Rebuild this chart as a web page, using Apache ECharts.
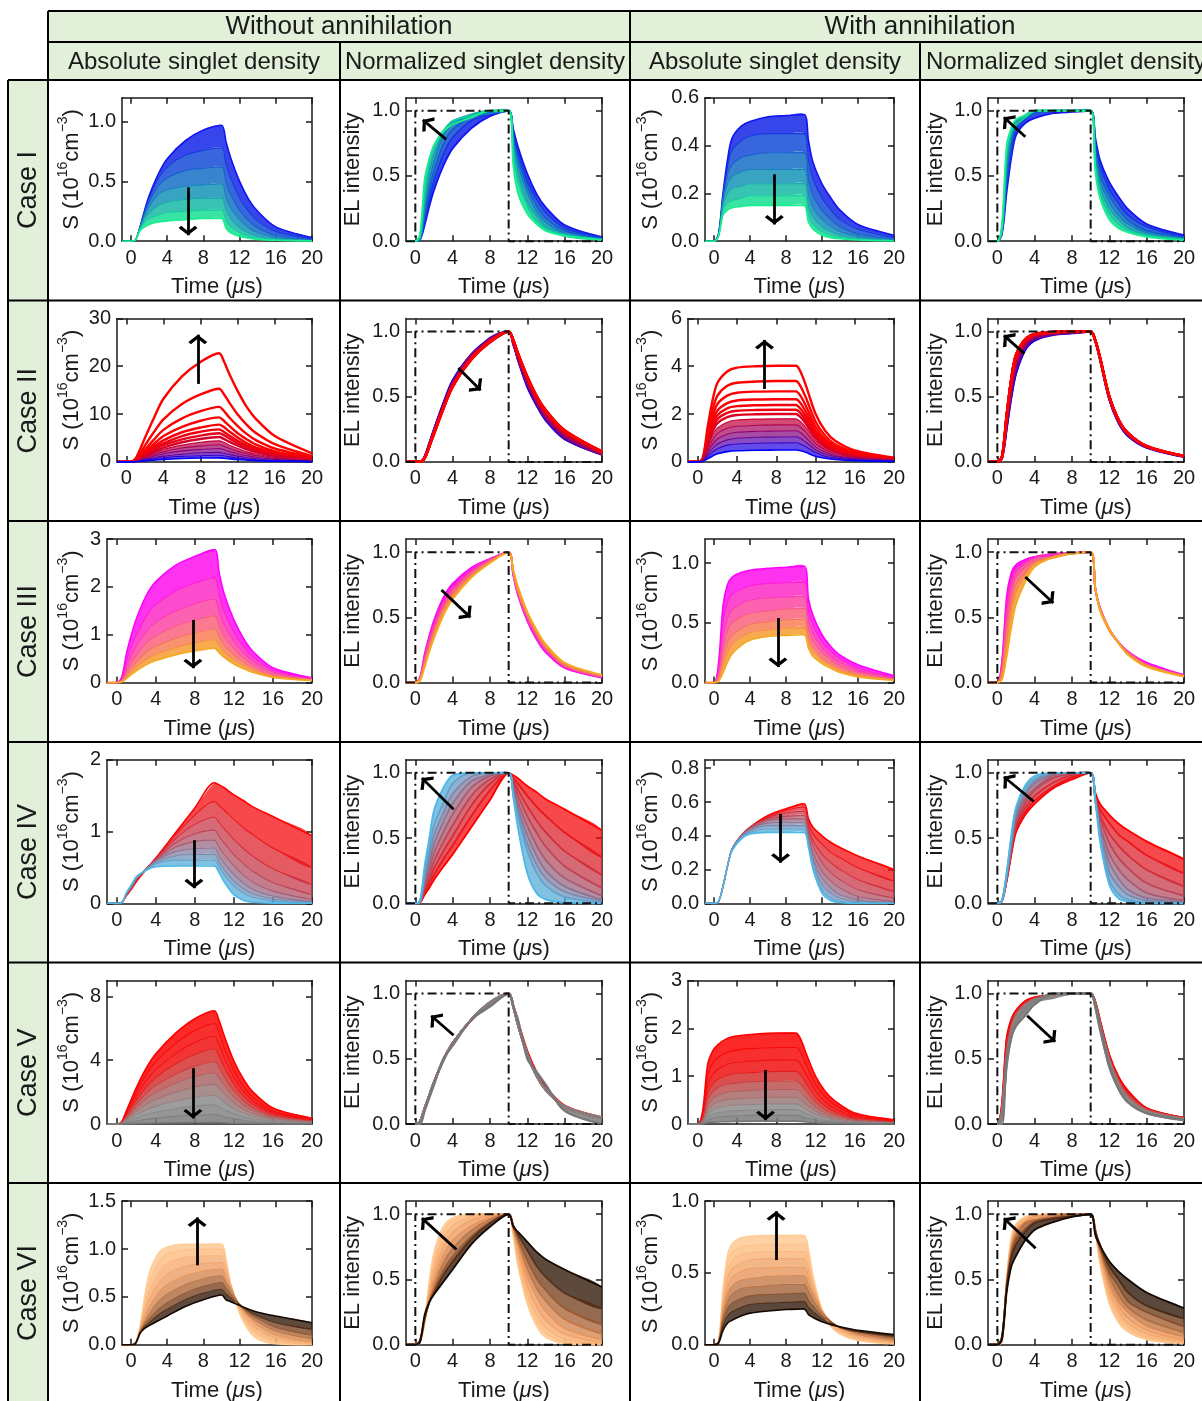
<!DOCTYPE html>
<html>
<head>
<meta charset="utf-8">
<title>Singlet density, cases I-VI</title>
<script src="https://cdn.jsdelivr.net/npm/echarts@6.0.0/dist/echarts.min.js"></script>
<style>
  html, body { margin: 0; padding: 0; background: #fff; }
  #chart { width: 1202px; height: 1401px; }
</style>
</head>
<body>
<div id="chart"></div>
<script>
const FONT = "'Liberation Sans', Arial, Helvetica, sans-serif";
const INK = '#1a1a1a';
const GREEN = '#e2efd9';

// shared time grid (us) for every curve
const T = [-1, 0, 0.5, 1, 1.5, 2, 3, 4, 6, 8, 10, 10.5, 11, 12, 13, 14, 16, 20];

// dash-dot drive pulse of the normalized panels
const pulseT = [-1, 0, 0, 10, 10, 20];
const pulseV = [0, 0, 1, 1, 0, 0];

const timeTicks = [0, 4, 8, 12, 16, 20];
const normTicks = [0, 0.5, 1];

// absolute panels: y top and tick labels, [without, with] annihilation
const absMax = [[1.2, 0.6], [30, 6], [3, 1.2], [2, 0.85], [9, 3], [1.5, 1.0]];
const absTicks = [
  [[0, 0.5, 1], [0, 0.2, 0.4, 0.6]],
  [[0, 10, 20, 30], [0, 2, 4, 6]],
  [[0, 1, 2, 3], [0, 0.5, 1]],
  [[0, 1, 2], [0, 0.2, 0.4, 0.6, 0.8]],
  [[0, 4, 8], [0, 1, 2, 3]],
  [[0, 0.5, 1, 1.5], [0, 0.5, 1]]
];

const caseNames = ['Case I', 'Case II', 'Case III', 'Case IV', 'Case V', 'Case VI'];
const groupTitles = ['Without annihilation', 'With annihilation'];
const colTitles = ['Absolute singlet density', 'Normalized singlet density', 'Absolute singlet density', 'Normalized singlet density'];

// arrows per panel: [tail, head] in (time, value)
const arrows = [
  [[[6.3, 0.45], [6.3, 0.05]], [[3.3, 0.78], [0.8, 0.93]], [[6.7, 0.28], [6.7, 0.07]], [[3.0, 0.80], [0.7, 0.95]]],
  [[[7.7, 16.3], [7.7, 26.6]], [[4.6, 0.72], [7.0, 0.55]], [[6.8, 3.05], [6.8, 5.1]], [[2.9, 0.83], [0.7, 0.97]]],
  [[[7.8, 1.31], [7.8, 0.3]], [[2.8, 0.71], [5.9, 0.5]], [[7.1, 0.54], [7.1, 0.13]], [[3.0, 0.81], [6.0, 0.61]]],
  [[[7.9, 0.88], [7.9, 0.21]], [[4.1, 0.72], [0.7, 0.96]], [[7.4, 0.53], [7.4, 0.24]], [[3.9, 0.78], [0.7, 0.97]]],
  [[[7.8, 3.5], [7.8, 0.35]], [[4.1, 0.68], [1.7, 0.83]], [[6.9, 1.13], [6.9, 0.08]], [[3.2, 0.83], [6.2, 0.63]]],
  [[[7.3, 0.83], [7.3, 1.33]], [[4.4, 0.73], [0.7, 0.97]], [[6.9, 0.59], [6.9, 0.93]], [[4.1, 0.74], [0.7, 0.97]]]
];

// singlet density S (1e16 cm^-3) on grid T, curves ordered top to bottom
const case1NoAnn = [
  [0,0,.01,.12,.26,.38,.56,.69,.84,.93,.97,.83,.70,.50,.35,.25,.12,.03],
  [0,0,.01,.12,.25,.36,.52,.62,.72,.76,.78,.64,.53,.36,.25,.17,.08,.02],
  [0,0,.01,.12,.24,.33,.46,.53,.59,.61,.62,.49,.39,.26,.17,.11,.05,.012],
  [0,0,.01,.12,.22,.29,.39,.43,.46,.47,.48,.36,.28,.18,.11,.07,.03,.006],
  [0,0,.01,.11,.19,.24,.30,.33,.35,.36,.36,.26,.19,.11,.07,.04,.02,.004],
  [0,0,.01,.10,.16,.19,.22,.24,.25,.26,.26,.17,.12,.07,.04,.025,.01,.002],
  [0,0,.01,.09,.12,.14,.16,.17,.18,.19,.19,.11,.07,.04,.025,.015,.008,.002]
];
const case1Ann = [
  [0,0,.03,.20,.34,.43,.48,.50,.52,.525,.53,.42,.33,.24,.18,.13,.07,.025],
  [0,0,.03,.19,.31,.38,.42,.44,.45,.45,.45,.34,.26,.18,.13,.09,.05,.015],
  [0,0,.03,.18,.28,.32,.35,.36,.37,.37,.37,.26,.19,.13,.09,.06,.03,.01],
  [0,0,.03,.17,.24,.27,.29,.30,.30,.30,.30,.20,.14,.09,.06,.04,.02,.006],
  [0,0,.02,.15,.20,.22,.23,.24,.24,.24,.24,.15,.10,.06,.04,.025,.012,.004],
  [0,0,.02,.13,.16,.17,.18,.19,.19,.19,.19,.11,.07,.04,.025,.016,.008,.002],
  [0,0,.02,.11,.13,.14,.145,.15,.15,.15,.15,.08,.05,.025,.015,.01,.005,.001]
];
const case2NoAnn = [
  [0,0,0,.7,2.7,5.0,9.3,13.2,17.9,20.9,22.7,21.1,18.8,14.8,11.4,8.9,5.4,1.8],
  [0,0,0,.46,1.8,3.4,6.3,8.9,12.1,14.1,15.3,14.2,12.7,9.9,7.7,6.0,3.7,1.2],
  [0,0,0,.35,1.4,2.5,4.7,6.7,9.1,10.6,11.5,10.7,9.5,7.5,5.8,4.5,2.8,.9],
  [0,0,0,.28,1.1,2.0,3.8,5.4,7.3,8.6,9.3,8.6,7.7,6.0,4.7,3.6,2.2,.74],
  [0,0,0,.23,.94,1.7,3.2,4.5,6.2,7.2,7.8,7.3,6.5,5.1,3.9,3.0,1.9,.62],
  [0,0,0,.2,.82,1.5,2.8,3.9,5.4,6.3,6.8,6.3,5.6,4.4,3.4,2.7,1.6,.54],
  [0,0,0,.18,.72,1.3,2.5,3.5,4.7,5.5,6.0,5.6,5.0,3.9,3.0,2.3,1.4,.48],
  [0,0,0,.16,.62,1.1,2.1,3.0,4.1,4.8,5.2,4.8,4.3,3.4,2.6,2.0,1.2,.42],
  [0,0,0,.14,.55,1.0,1.8,2.6,3.5,4.1,4.4,4.1,3.6,2.8,2.1,1.6,.96,.3],
  [0,0,0,.12,.46,.83,1.5,2.1,2.9,3.3,3.6,3.3,2.9,2.2,1.7,1.3,.74,.22],
  [0,0,0,.1,.36,.65,1.2,1.7,2.3,2.6,2.8,2.6,2.2,1.7,1.3,.96,.55,.17],
  [0,0,0,.07,.27,.48,.88,1.2,1.6,1.9,2.0,1.8,1.6,1.2,.88,.66,.37,.11],
  [0,0,0,.05,.19,.34,.62,.86,1.15,1.3,1.4,1.3,1.1,.82,.61,.45,.25,.08],
  [0,0,0,.035,.12,.21,.38,.53,.7,.8,.85,.77,.67,.49,.37,.27,.15,.05]
];
const case2Ann = [
  [0,0,.16,1.45,2.57,3.3,3.78,3.94,4.0,4.02,4.02,3.74,3.22,2.01,1.29,.88,.48,.18],
  [0,0,.14,1.22,2.16,2.77,3.18,3.31,3.36,3.38,3.38,3.14,2.7,1.69,1.08,.74,.41,.15],
  [0,0,.12,1.06,1.89,2.42,2.77,2.89,2.94,2.95,2.95,2.74,2.36,1.48,.94,.65,.35,.13],
  [0,0,.1,.94,1.68,2.15,2.46,2.57,2.61,2.62,2.62,2.44,2.1,1.31,.84,.58,.31,.12],
  [0,0,.1,.86,1.52,1.95,2.24,2.33,2.37,2.38,2.38,2.21,1.9,1.19,.76,.52,.29,.11],
  [0,0,.09,.78,1.4,1.79,2.05,2.14,2.17,2.18,2.18,2.03,1.74,1.09,.7,.48,.26,.1],
  [0,0,.08,.7,1.26,1.62,1.87,1.96,1.99,2.0,2.0,1.86,1.6,1.0,.64,.44,.24,.09],
  [0,0,.07,.61,1.1,1.42,1.66,1.75,1.79,1.8,1.8,1.67,1.44,.9,.58,.4,.22,.08],
  [0,0,.06,.5,.91,1.19,1.41,1.49,1.53,1.55,1.55,1.44,1.24,.77,.5,.34,.18,.07],
  [0,0,.05,.39,.73,.96,1.16,1.24,1.28,1.29,1.3,1.21,1.03,.63,.4,.27,.15,.055],
  [0,0,.035,.29,.56,.75,.92,.99,1.03,1.04,1.05,.98,.83,.51,.32,.22,.12,.044],
  [0,0,.025,.22,.41,.55,.7,.75,.78,.79,.8,.74,.63,.39,.24,.16,.09,.032],
  [0,0,.015,.13,.25,.34,.43,.465,.49,.495,.5,.465,.4,.24,.15,.1,.055,.02]
];
const case3NoAnn = [
  [0,0,.11,.61,1.0,1.33,1.81,2.11,2.45,2.64,2.78,2.28,1.86,1.31,.92,.64,.31,.1],
  [0,0,.08,.45,.75,1.0,1.38,1.63,1.91,2.08,2.2,1.82,1.49,1.06,.75,.53,.26,.09],
  [0,0,.06,.33,.56,.76,1.06,1.26,1.49,1.65,1.75,1.46,1.2,.86,.62,.44,.22,.075],
  [0,0,.04,.24,.42,.57,.82,.98,1.18,1.31,1.4,1.18,.97,.71,.51,.36,.18,.067],
  [0,0,.03,.17,.31,.43,.63,.76,.93,1.04,1.12,.95,.78,.58,.42,.3,.15,.058],
  [0,0,.02,.12,.23,.33,.49,.59,.73,.83,.9,.77,.64,.48,.35,.25,.13,.05],
  [0,0,.01,.086,.17,.245,.37,.46,.58,.66,.72,.62,.53,.39,.29,.21,.11,.043]
];
const case3Ann = [
  [0,0,.16,.64,.82,.88,.92,.94,.955,.965,.975,.7,.56,.4,.3,.23,.15,.057],
  [0,0,.12,.5,.67,.74,.78,.81,.83,.835,.84,.6,.48,.34,.26,.2,.12,.047],
  [0,0,.09,.38,.54,.61,.66,.69,.71,.715,.72,.52,.41,.29,.22,.17,.1,.038],
  [0,0,.06,.28,.43,.5,.55,.58,.6,.615,.62,.45,.35,.25,.19,.14,.085,.031],
  [0,0,.04,.2,.33,.4,.45,.49,.51,.525,.53,.38,.3,.21,.16,.12,.07,.026],
  [0,0,.02,.14,.25,.32,.38,.42,.44,.455,.46,.33,.26,.19,.14,.1,.06,.022],
  [0,0,.01,.08,.17,.24,.31,.355,.385,.395,.4,.29,.22,.16,.12,.085,.048,.018]
];
const case4NoAnn = [
  [0,0,.01,.11,.2,.3,.47,.63,.98,1.33,1.68,1.65,1.61,1.51,1.43,1.34,1.21,.94],
  [0,0,.01,.115,.21,.31,.48,.63,.95,1.23,1.42,1.36,1.3,1.17,1.05,.95,.77,.5],
  [0,0,.01,.12,.215,.32,.48,.62,.9,1.1,1.2,1.12,1.04,.89,.76,.65,.48,.26],
  [0,0,.01,.125,.22,.33,.48,.61,.84,.97,1.02,.93,.84,.68,.55,.44,.29,.12],
  [0,0,.01,.13,.23,.34,.48,.6,.78,.86,.88,.78,.68,.52,.39,.29,.17,.05],
  [0,0,.01,.135,.24,.35,.48,.59,.72,.76,.77,.66,.56,.4,.28,.19,.1,.02],
  [0,0,.01,.14,.245,.355,.47,.57,.66,.68,.68,.57,.47,.31,.2,.13,.06,.01],
  [0,0,.01,.145,.25,.36,.46,.55,.6,.6,.6,.5,.4,.24,.14,.08,.03,.003],
  [0,0,.01,.15,.26,.37,.46,.51,.52,.52,.52,.42,.3,.12,.04,.015,.003,0]
];
const case4Ann = [
  [0,0,.01,.1,.22,.32,.40,.45,.52,.56,.59,.5,.45,.4,.36,.33,.28,.2],
  [0,0,.01,.1,.22,.32,.40,.45,.51,.55,.57,.47,.41,.35,.3,.27,.21,.13],
  [0,0,.01,.1,.22,.32,.40,.45,.505,.535,.545,.44,.37,.29,.24,.2,.14,.07],
  [0,0,.01,.1,.22,.32,.40,.45,.5,.515,.52,.42,.34,.24,.18,.14,.08,.03],
  [0,0,.01,.1,.22,.32,.40,.44,.49,.5,.5,.4,.3,.19,.13,.09,.04,.01],
  [0,0,.01,.1,.22,.32,.40,.44,.475,.48,.48,.38,.27,.15,.09,.05,.02,.004],
  [0,0,.01,.1,.22,.32,.39,.43,.46,.46,.46,.36,.25,.11,.06,.03,.01,0],
  [0,0,.01,.1,.22,.32,.39,.42,.44,.44,.44,.35,.23,.08,.03,.012,.003,0],
  [0,0,.01,.1,.22,.31,.38,.41,.42,.42,.42,.33,.2,.06,.015,.005,0,0]
];
const case5NoAnn = [
  [0,0,.14,.85,1.56,2.27,3.48,4.4,5.68,6.6,7.1,6.45,5.55,3.95,2.8,1.98,1.0,.36],
  [0,0,.13,.76,1.39,2.02,3.09,3.91,5.04,5.86,6.3,5.67,4.79,3.34,2.33,1.64,.82,.28],
  [0,0,.11,.66,1.21,1.76,2.7,3.41,4.4,5.12,5.5,4.95,4.18,2.92,2.04,1.43,.72,.25],
  [0,0,.09,.56,1.03,1.5,2.3,2.91,3.76,4.37,4.7,4.23,3.57,2.49,1.74,1.22,.61,.21],
  [0,0,.08,.47,.86,1.25,1.91,2.42,3.12,3.63,3.9,3.51,2.96,2.07,1.44,1.01,.51,.18],
  [0,0,.06,.38,.7,1.02,1.57,1.98,2.56,2.98,3.2,2.88,2.43,1.7,1.18,.83,.42,.14],
  [0,0,.05,.3,.55,.8,1.23,1.55,2.0,2.33,2.5,2.25,1.9,1.33,.93,.65,.33,.11],
  [0,0,.04,.22,.4,.58,.88,1.12,1.44,1.67,1.8,1.62,1.37,.95,.67,.47,.23,.08],
  [0,0,.02,.14,.26,.38,.59,.74,.96,1.12,1.2,1.08,.91,.64,.44,.31,.16,.05],
  [0,0,.01,.07,.13,.19,.29,.37,.48,.56,.6,.54,.46,.32,.22,.16,.08,.03],
  [0,0,0,.01,.02,.03,.05,.06,.08,.09,.1,.09,.08,.05,.04,.03,.01,0]
];
const case5Ann = [
  [0,0,.28,1.24,1.52,1.65,1.79,1.84,1.88,1.9,1.9,1.77,1.5,1.0,.68,.48,.23,.09],
  [0,0,.22,1.0,1.26,1.38,1.5,1.55,1.58,1.6,1.6,1.49,1.26,.83,.56,.39,.19,.075],
  [0,0,.17,.81,1.03,1.14,1.25,1.29,1.32,1.34,1.34,1.24,1.05,.69,.46,.32,.155,.06],
  [0,0,.13,.64,.83,.93,1.02,1.06,1.08,1.1,1.1,1.02,.86,.56,.37,.25,.12,.05],
  [0,0,.1,.5,.67,.76,.83,.86,.89,.9,.9,.83,.7,.45,.29,.2,.1,.04],
  [0,0,.07,.38,.52,.6,.66,.69,.71,.72,.72,.66,.55,.35,.23,.15,.075,.03],
  [0,0,.05,.28,.4,.46,.51,.53,.55,.56,.56,.51,.42,.27,.17,.11,.055,.02],
  [0,0,.03,.2,.29,.34,.38,.4,.41,.42,.42,.38,.31,.2,.12,.08,.04,.015],
  [0,0,.02,.14,.2,.23,.26,.28,.29,.3,.3,.27,.22,.13,.08,.05,.025,.01],
  [0,0,.01,.08,.12,.14,.16,.17,.18,.18,.18,.16,.13,.08,.05,.03,.015,.005],
  [0,0,0,.03,.04,.045,.05,.055,.06,.06,.06,.055,.045,.027,.016,.01,.005,.002]
];
const case6NoAnn = [
  [0,0,.02,.19,.5,.74,.95,1.02,1.05,1.05,1.05,.88,.64,.33,.15,.06,.01,0],
  [0,0,.02,.18,.44,.65,.86,.95,.99,1.0,1.0,.86,.64,.35,.18,.09,.02,.002],
  [0,0,.02,.17,.38,.56,.75,.85,.91,.93,.93,.81,.63,.37,.21,.12,.04,.006],
  [0,0,.02,.16,.33,.47,.64,.74,.82,.85,.86,.76,.62,.39,.25,.16,.07,.015],
  [0,0,.02,.15,.28,.39,.54,.63,.72,.77,.79,.7,.6,.41,.29,.2,.1,.03],
  [0,0,.02,.14,.24,.32,.45,.53,.63,.69,.72,.65,.57,.42,.31,.24,.14,.06],
  [0,0,.02,.13,.21,.27,.37,.44,.54,.61,.65,.59,.53,.42,.33,.27,.18,.1],
  [0,0,.02,.12,.19,.23,.31,.37,.47,.54,.58,.53,.49,.42,.35,.3,.23,.16],
  [0,0,.01,.12,.17,.2,.25,.3,.4,.47,.52,.47,.45,.41,.37,.34,.3,.23]
];
const case6Ann = [
  [0,0,.02,.38,.62,.7,.745,.755,.76,.76,.76,.66,.48,.24,.13,.075,.03,.005],
  [0,0,.02,.34,.56,.64,.68,.69,.70,.70,.70,.61,.45,.24,.13,.08,.035,.007],
  [0,0,.02,.31,.51,.58,.63,.64,.65,.65,.65,.57,.43,.24,.14,.09,.04,.01],
  [0,0,.02,.28,.46,.53,.57,.59,.60,.60,.60,.53,.41,.24,.15,.1,.05,.015],
  [0,0,.02,.25,.4,.47,.51,.53,.535,.54,.54,.47,.38,.24,.16,.11,.06,.02],
  [0,0,.02,.22,.35,.41,.45,.46,.475,.48,.48,.42,.35,.23,.16,.12,.07,.03],
  [0,0,.02,.19,.3,.35,.39,.4,.41,.42,.42,.37,.31,.22,.16,.12,.08,.04],
  [0,0,.02,.16,.25,.29,.32,.34,.35,.355,.36,.31,.27,.2,.16,.12,.09,.05],
  [0,0,.02,.13,.2,.23,.26,.28,.29,.295,.30,.26,.23,.18,.15,.12,.09,.06],
  [0,0,.01,.1,.15,.17,.2,.22,.235,.245,.25,.21,.19,.16,.14,.125,.1,.07]
];

const families = [
  [case1NoAnn, case1Ann], [case2NoAnn, case2Ann], [case3NoAnn, case3Ann],
  [case4NoAnn, case4Ann], [case5NoAnn, case5Ann], [case6NoAnn, case6Ann]
];

// colour ramps and band filling per case
const famStyle = [
  { stops: ['#1414f0', '#16f08c'], gamma: 1, alpha: 0.85, fillFrom: [0, 0], topFirst: false, normW: 1.8 },
  { stops: ['#ff0000', '#0000ff'], gamma: 3, alpha: 0.7, fillFrom: [8, 7], topFirst: true, normW: 2.4 },
  { stops: ['#ff00ff', '#f5aa1e'], gamma: 1, alpha: 0.85, fillFrom: [0, 0], topFirst: false, normW: 1.8 },
  { stops: ['#ff0000', '#4cb8e8'], gamma: 1, alpha: 0.75, fillFrom: [0, 0], topFirst: false, normW: 1.8 },
  { stops: ['#ff0000', '#f01010', '#b06060', '#8c8c8c', '#777777'], gamma: 1, alpha: 0.85, fillFrom: [0, 0], topFirst: false, normW: 2.2 },
  { stops: ['#ffcc94', '#fbb57a', '#e8965c', '#9a5a32', '#140800'], gamma: 1, alpha: 0.8, fillFrom: [0, 0], topFirst: false, normW: 1.8 }
];

// layout
const rowTop = r => 97.7 + r * 220.7;
const PLOT_H = 143.5;
const col1Left = [122, 117, 107, 107, 107, 122];
const col3Left = [705, 688, 705, 705, 688, 705];
const colRight = [312, 602, 894, 1184];
const nameEdge = [83, 364, 662, 947];
const SMOOTH = 0.3;

const ARROW = 'path://M0,-13 L0,-13 M0,0 L11,10 L8,13 L0,5.5 L-8,13 L-11,10 Z';

function hex(c) { return [1, 3, 5].map(i => parseInt(c.slice(i, i + 2), 16)); }
function ramp(stops, f) {
  const s = Math.max(0, Math.min(1, f)) * (stops.length - 1);
  const k = Math.min(Math.floor(s), stops.length - 2);
  const u = s - k, a = hex(stops[k]), b = hex(stops[k + 1]);
  return 'rgb(' + a.map((v, i) => Math.round(v + (b[i] - v) * u)).join(',') + ')';
}

const chart = echarts.init(document.getElementById('chart'));
const option = {
  animation: false,
  backgroundColor: '#ffffff',
  grid: [], xAxis: [], yAxis: [], series: [],
  graphic: { elements: [] }
};

const axisLine = { show: true, onZero: false, lineStyle: { color: INK, width: 1.5 } };
const tickLine = { color: INK, width: 1.5 };
const tickText = { fontFamily: FONT, fontSize: 20, color: INK };

for (let r = 0; r < 6; r++) {
  for (let c = 0; c < 4; c++) {
    const k = r * 4 + c;
    const ann = c >= 2 ? 1 : 0;
    const norm = c % 2 === 1;
    const st = famStyle[r];
    const raw = families[r][ann];
    const vals = norm ? raw.map(cv => { const m = Math.max(...cv); return cv.map(v => v / m); }) : raw;
    const n = vals.length;
    const colors = vals.map((_, i) => ramp(st.stops, Math.pow(i / (n - 1), st.gamma)));
    const left = [col1Left[r], 406, col3Left[r], 988][c];
    const yMax = norm ? 1.1 : absMax[r][ann];
    const yTicks = norm ? normTicks : absTicks[r][ann];
    const dec = yTicks.some(v => v % 1 !== 0) ? 1 : 0;

    option.grid.push({ left: left, top: rowTop(r), width: colRight[c] - left, height: PLOT_H,
      containLabel: false, outerBoundsMode: 'none' });

    option.xAxis.push({
      gridIndex: k, type: 'value', min: -1, max: 20, position: 'bottom',
      axisLine: axisLine, splitLine: { show: false },
      axisTick: { inside: true, length: 6, customValues: timeTicks, lineStyle: tickLine },
      axisLabel: Object.assign({ customValues: timeTicks, margin: 7 }, tickText),
      name: 'Time ({i|μ}s)', nameLocation: 'middle', nameGap: 35, nameMoveOverlap: false,
      nameTextStyle: { fontFamily: FONT, fontSize: 22, color: INK,
        rich: { i: { fontFamily: FONT, fontSize: 22, fontStyle: 'italic', color: INK } } }
    });
    option.xAxis.push({
      gridIndex: k, type: 'value', min: -1, max: 20, position: 'top',
      axisLine: axisLine, splitLine: { show: false },
      axisTick: { inside: true, length: 6, customValues: timeTicks, lineStyle: tickLine },
      axisLabel: { show: false }
    });
    option.yAxis.push({
      gridIndex: k, type: 'value', min: 0, max: yMax, position: 'left',
      axisLine: axisLine, splitLine: { show: false },
      axisTick: { inside: true, length: 6, customValues: yTicks, lineStyle: tickLine },
      axisLabel: Object.assign({ customValues: yTicks, margin: 6, formatter: v => v.toFixed(dec) }, tickText),
      name: norm ? 'EL intensity' : '{m|S (10}{s|16}{m|cm}{s|−3}{m|)}',
      nameLocation: 'middle', nameRotate: 90, nameGap: left - nameEdge[c], nameMoveOverlap: false,
      nameTextStyle: { fontFamily: FONT, fontSize: 22, color: INK,
        rich: {
          m: { fontFamily: FONT, fontSize: 22, color: INK, lineHeight: 27, verticalAlign: 'bottom' },
          s: { fontFamily: FONT, fontSize: 14, color: INK, lineHeight: 16, verticalAlign: 'top' }
        } }
    });
    option.yAxis.push({
      gridIndex: k, type: 'value', min: 0, max: yMax, position: 'right',
      axisLine: axisLine, splitLine: { show: false },
      axisTick: { inside: true, length: 6, customValues: yTicks, lineStyle: tickLine },
      axisLabel: { show: false }
    });

    // filled bands between neighbouring curves
    const from = norm ? 0 : st.fillFrom[ann];
    const bands = [];
    for (let i = from; i < n - 1; i++) bands.push([i, 0]);
    option.series.push({
      type: 'custom', xAxisIndex: 2 * k, yAxisIndex: 2 * k, silent: true, z: 2, clip: true,
      data: bands,
      renderItem: (params, api) => {
        const i = bands[params.dataIndex][0];
        const upper = T.map((t, j) => api.coord([t, vals[i][j]]));
        const lower = T.map((t, j) => api.coord([t, vals[i + 1][j]])).reverse();
        const lo = api.coord([-1, yMax]), hi = api.coord([20, 0]);
        return {
          type: 'polygon',
          shape: { points: upper.concat(lower), smooth: SMOOTH, smoothConstraint: [lo, hi] },
          style: { fill: ramp(st.stops, Math.pow((i + 0.5) / (n - 1), st.gamma)), opacity: st.alpha }
        };
      }
    });

    // the curves themselves
    const order = vals.map((_, i) => i);
    if (norm && st.topFirst) order.reverse();
    order.forEach(i => {
      const edge = i === 0 || i === n - 1;
      const width = norm ? st.normW : (i < from ? 2.4 : (edge ? 1.6 : 1.1));
      option.series.push({
        type: 'line', xAxisIndex: 2 * k, yAxisIndex: 2 * k,
        data: T.map((t, j) => [t, vals[i][j]]),
        symbol: 'none', smooth: SMOOTH, clip: false, silent: true, z: 3,
        lineStyle: { color: colors[i], width: width }
      });
    });

    if (norm) {
      option.series.push({
        type: 'line', xAxisIndex: 2 * k, yAxisIndex: 2 * k,
        data: pulseT.map((t, j) => [t, pulseV[j]]),
        symbol: 'none', clip: false, silent: true, z: 5,
        lineStyle: { color: '#111', width: 2, type: [9, 4, 2, 4] }
      });
    }

    option.series.push({
      type: 'line', xAxisIndex: 2 * k, yAxisIndex: 2 * k, data: [], z: 6, silent: true,
      markLine: {
        silent: true, animation: false,
        symbol: ['none', ARROW], symbolSize: 19,
        label: { show: false }, emphasis: { disabled: true },
        lineStyle: { color: '#000', width: 2.8, type: 'solid' },
        data: [[{ coord: arrows[r][c][0] }, { coord: arrows[r][c][1] }]]
      }
    });
  }
}

// table frame, headers and case labels
const G = option.graphic.elements;
G.push({ type: 'rect', z: -10, shape: { x: 48, y: 11, width: 1170, height: 69 }, style: { fill: GREEN } });
G.push({ type: 'rect', z: -10, shape: { x: 8, y: 80, width: 40, height: 1340 }, style: { fill: GREEN } });
[[48, 11], [48, 42], [8, 80], [8, 300.5], [8, 521], [8, 742], [8, 962.5], [8, 1183]].forEach(([x, y]) => {
  G.push({ type: 'line', shape: { x1: x, y1: y, x2: 1215, y2: y }, style: { stroke: '#000', lineWidth: 2 } });
});
[[8, 80], [48, 11], [340, 42], [630, 11], [920, 42]].forEach(([x, y]) => {
  G.push({ type: 'line', shape: { x1: x, y1: y, x2: x, y2: 1420 }, style: { stroke: '#000', lineWidth: 2 } });
});
function label(text, x, y, size, rot) {
  G.push({ type: 'text', x: x, y: y, rotation: rot || 0,
    style: { text: text, fontFamily: FONT, fontSize: size, fill: INK,
      align: 'center', verticalAlign: 'middle', textAlign: 'center', textVerticalAlign: 'middle' } });
}
label(groupTitles[0], 339, 27, 26);
label(groupTitles[1], 920, 27, 26);
[194, 485, 775, 1066].forEach((x, i) => label(colTitles[i], x, 62, 24));
caseNames.forEach((name, r) => label(name, 29, [190, 410.7, 631.5, 852, 1072.7, 1293][r], 27, Math.PI / 2));

chart.setOption(option);
</script>
</body>
</html>
